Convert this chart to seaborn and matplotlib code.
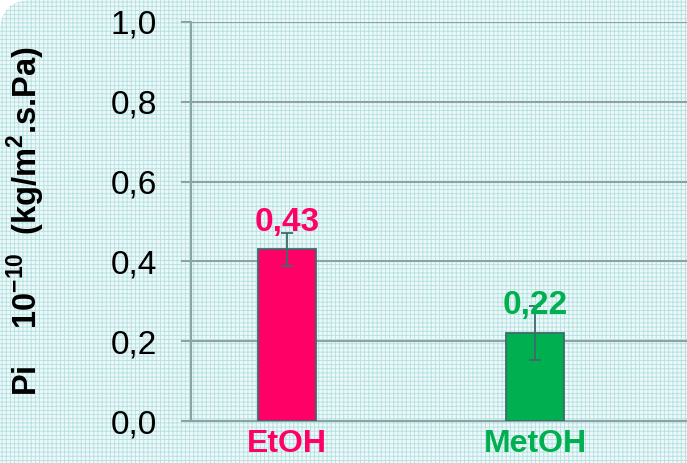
import matplotlib
matplotlib.use("Agg")
import matplotlib.pyplot as plt
from matplotlib.patches import FancyBboxPatch
import seaborn as sns
import pandas as pd

solvents = ["EtOH", "MetOH"]
permeance = [0.43, 0.22]
error = [0.042, 0.068]
value_labels = ["0,43", "0,22"]
bar_colors = ["#ff0066", "#00b050"]
y_ticks = [0.0, 0.2, 0.4, 0.6, 0.8, 1.0]
y_tick_labels = ["0,0", "0,2", "0,4", "0,6", "0,8", "1,0"]
y_title = r"Pi    10$^{\mathbf{-10}}$  (kg/m$^{\mathbf{2}}$.s.Pa)"

sns.set_theme(style="white")
plt.rcParams["font.family"] = ["Liberation Sans", "DejaVu Sans"]
plt.rcParams["mathtext.fontset"] = "custom"
plt.rcParams["mathtext.rm"] = "Liberation Sans"
plt.rcParams["mathtext.bf"] = "Liberation Sans:bold"
plt.rcParams["hatch.linewidth"] = 0.6

grid_color = "#8aa3a3"
edge_color = "#3d6b6b"

fig = plt.figure(figsize=(6.87, 4.63), dpi=100)
fig.patch.set_facecolor("white")

# textured background panel with a rounded top-left corner
panel = FancyBboxPatch((0.0, -1.0), 8.0, 5.63,
                       boxstyle="round,pad=0,rounding_size=0.32",
                       transform=fig.dpi_scale_trans,
                       facecolor="#edf8f8", edgecolor="#b3e0e0",
                       linewidth=0, hatch="++++", zorder=-10)
fig.add_artist(panel)

ax = fig.add_axes([0.278, 0.0907, 0.722, 0.8618])
ax.set_facecolor("none")
ax.set_zorder(1)

df = pd.DataFrame({"solvent": solvents, "value": permeance})
sns.barplot(data=df, x="solvent", y="value", hue="solvent",
            palette=bar_colors, saturation=1, width=0.234,
            edgecolor=edge_color, linewidth=1.3, errorbar=None,
            legend=False, ax=ax, zorder=3)

for i, (v, e) in enumerate(zip(permeance, error)):
    ax.errorbar(i, v, yerr=e, color=edge_color, elinewidth=1.3,
                capsize=4, capthick=1.3, zorder=4)
    ax.annotate(value_labels[i], xy=(i, v), xytext=(0, 13.5),
                textcoords="offset points", ha="center", va="baseline",
                color=bar_colors[i], fontsize=24, fontweight="bold", zorder=5)

ax.set_xlim(-0.387, 1.613)
ax.set_ylim(0, 1.0)
ax.set_yticks(y_ticks)
ax.set_yticklabels(y_tick_labels, fontsize=24, color="black")
ax.yaxis.grid(True, color=grid_color, linewidth=1.5, zorder=1)
ax.set_axisbelow(True)
ax.tick_params(axis="y", direction="out", length=7.5, width=1.5,
               color=grid_color, pad=17, left=True)
ax.tick_params(axis="x", length=0, pad=6)

for lbl, c in zip(ax.get_xticklabels(), bar_colors):
    lbl.set_color(c)
    lbl.set_fontsize(23)
    lbl.set_fontweight("bold")

for side in ["top", "right"]:
    ax.spines[side].set_visible(False)
for side in ["left", "bottom"]:
    ax.spines[side].set_color(grid_color)
    ax.spines[side].set_linewidth(1.5)

ax.set_xlabel("")
ax.set_ylabel(y_title, fontsize=23.5, fontweight="bold", color="black",
              labelpad=0, va="center")
ax.yaxis.set_label_coords(-0.332, 0.5)

fig.savefig("out.png", dpi=100)
